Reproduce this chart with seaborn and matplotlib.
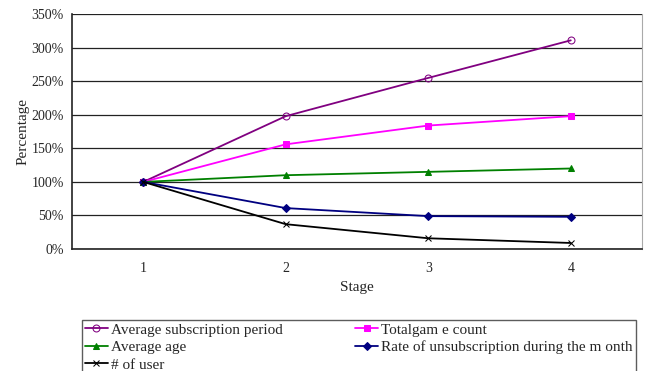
import pandas as pd
import seaborn as sns
import matplotlib.pyplot as plt
from matplotlib.ticker import FuncFormatter, FixedLocator

stages = [1, 2, 3, 4]
avg_sub_period = [100, 198, 255, 311]
total_game_count = [100, 156, 184, 198]
avg_age = [100, 110, 115, 120]
unsub_rate = [100, 61, 49, 48]
num_user = [100, 37, 16, 9]

labels = ["Average subscription period", "Totalgam e count", "Average age",
          "Rate of unsubscription during the m onth", "# of user"]
series = [avg_sub_period, total_game_count, avg_age, unsub_rate, num_user]

rows = []
for lab, vals in zip(labels, series):
    for s, v in zip(stages, vals):
        rows.append({"Stage": s, "Percentage": v, "series": lab})
df = pd.DataFrame(rows)

sns.set_style("white")
plt.rcParams['font.family'] = ['Liberation Serif', 'DejaVu Serif']
plt.rcParams['font.size'] = 10

fig = plt.figure(figsize=(6.47, 3.71), dpi=100)
ax = fig.add_axes([0.1113, 0.3288, 0.881, 0.633])

colors = ["#800080", "#ff00ff", "#008000", "#000080", "#000000"]
markers = ["o", "s", "^", "D", "x"]
styles = dict(zip(labels, zip(colors, markers)))

for lab in labels:
    c, m = styles[lab]
    sub = df[df.series == lab]
    mfc = "none" if m == "o" else c
    sns.lineplot(data=sub, x="Stage", y="Percentage", ax=ax, color=c,
                 marker=m, markersize=5 if m != "D" else 4,
                 markerfacecolor=mfc, markeredgecolor=c, linewidth=1.3,
                 label=lab)

ax.set_xlim(0.5, 4.5)
ax.set_ylim(0, 350)
ax.set_yticks(range(0, 351, 50))
ax.yaxis.set_major_formatter(FuncFormatter(lambda v, p: f"{int(v)}%"))
ax.set_xticks(stages)
ax.xaxis.set_minor_locator(FixedLocator([1.5, 2.5, 3.5]))
ax.tick_params(axis="x", which="major", length=0, pad=9)
ax.tick_params(axis="x", which="minor", length=4, direction="in", color="black")
ax.tick_params(axis="y", length=4, direction="out", color="black", pad=2)
ax.grid(axis="y", color="#222222", linewidth=0.9)
for side in ["left", "bottom"]:
    ax.spines[side].set_color("#222222")
    ax.spines[side].set_linewidth(1.2)
ax.spines["top"].set_visible(False)
ax.spines["right"].set_color("#aaaaaa")
ax.set_xlabel("Stage", labelpad=5, fontsize=11)
ax.set_ylabel("Percentage", labelpad=1, fontsize=11)

h, l = ax.get_legend_handles_labels()
ax.get_legend().remove()
order = [0, 2, 4, 1, 3]
leg = fig.legend([h[i] for i in order], [l[i] for i in order],
                 loc="upper left", bbox_to_anchor=(0.1267, 0.1375, 0.856, 0.0),
                 ncol=2, mode="expand", frameon=True, fancybox=False,
                 edgecolor="#333333", borderpad=0.2, labelspacing=0.25,
                 handlelength=1.5, handletextpad=0.2, borderaxespad=0,
                 prop={"size": 11})
leg.get_frame().set_linewidth(1.0)

fig.savefig("out.png", dpi=100)
